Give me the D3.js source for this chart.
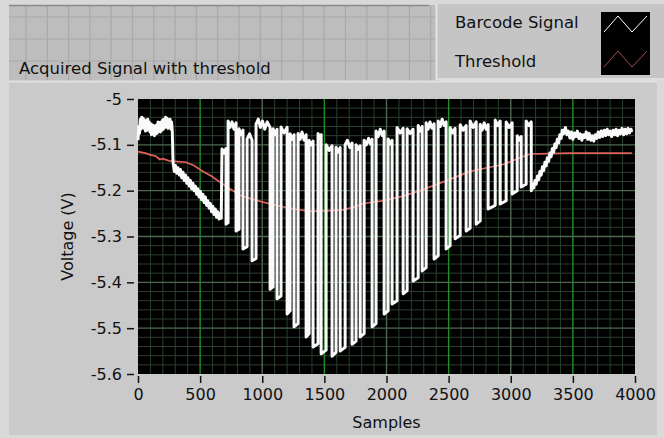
<!DOCTYPE html>
<html lang="en">
<head>
  <meta charset="UTF-8">
  <title>Acquired Signal with threshold</title>
  <script src="https://d3js.org/d3.v7.min.js"></script>
  <style>
    body {
      margin: 0;
      background: #d8d8d8;
    }
    svg {
      display: block;
      font-family: 'DejaVu Sans', sans-serif;
    }
    .tick text {
      font-size: 16px;
      fill: #111;
    }
  </style>
</head>
<body>
  <svg id="chart" width="664" height="438"></svg>

  <script>
    // axis ticks
    const xTicks = [0, 500, 1000, 1500, 2000, 2500, 3000, 3500, 4000];
    const yTicks = [-5, -5.1, -5.2, -5.3, -5.4, -5.5, -5.6];

    // barcode signal, [sample, volts] - flat lead-in then slow ramp down
    const signalLead = [
      [0, -5.09], [6, -5.06], [12, -5.075], [18, -5.045], [24, -5.066], [30, -5.04], [36, -5.06],
      [42, -5.042], [48, -5.064], [54, -5.046], [60, -5.07], [66, -5.05], [72, -5.068], [78, -5.044],
      [84, -5.066], [90, -5.05], [96, -5.072], [102, -5.054], [108, -5.078], [114, -5.056], [120, -5.074],
      [126, -5.058], [132, -5.08], [138, -5.06], [144, -5.076], [150, -5.056], [156, -5.074], [162, -5.05],
      [168, -5.07], [174, -5.052], [180, -5.072], [186, -5.05], [192, -5.068], [198, -5.046], [204, -5.066],
      [210, -5.044], [216, -5.062], [222, -5.04], [228, -5.06], [234, -5.042], [240, -5.064], [246, -5.046],
      [252, -5.062], [258, -5.044], [264, -5.066], [270, -5.05], [276, -5.07],
      [282, -5.138], [292, -5.158], [302, -5.145], [312, -5.162], [322, -5.15], [332, -5.166], [342, -5.154],
      [352, -5.172], [362, -5.16], [372, -5.178], [382, -5.166], [392, -5.184], [402, -5.172], [412, -5.19],
      [422, -5.178], [432, -5.196], [442, -5.184], [452, -5.2], [462, -5.19], [472, -5.208], [482, -5.196],
      [492, -5.214], [502, -5.202], [512, -5.22], [522, -5.208], [532, -5.226], [542, -5.214], [552, -5.232],
      [562, -5.222], [572, -5.238], [582, -5.228], [592, -5.246], [602, -5.234], [612, -5.252], [622, -5.24],
      [632, -5.258], [642, -5.246], [652, -5.262], [662, -5.25], [670, -5.26]
    ];

    // the bars themselves
    const signalBars = [
      [676, -5.109], [692, -5.118], [709, -5.108], [709, -5.273], [725, -5.27],
      [725, -5.048], [741, -5.062], [757, -5.05], [773, -5.066], [789, -5.052], [789, -5.288], [813, -5.284],
      [813, -5.065], [829, -5.078], [845, -5.068], [845, -5.327], [878, -5.322],
      [878, -5.087], [898, -5.076], [918, -5.09], [918, -5.353], [950, -5.348],
      [950, -5.055], [968, -5.044], [985, -5.062], [1002, -5.048], [1020, -5.066], [1040, -5.05], [1063, -5.062],
      [1063, -5.415], [1087, -5.41],
      [1087, -5.065], [1103, -5.078], [1119, -5.066], [1119, -5.436], [1151, -5.43],
      [1151, -5.061], [1175, -5.074], [1200, -5.062], [1200, -5.469], [1224, -5.462],
      [1224, -5.076], [1240, -5.088], [1256, -5.078], [1256, -5.497], [1288, -5.49],
      [1288, -5.075], [1305, -5.088], [1320, -5.072], [1337, -5.09], [1353, -5.078], [1353, -5.519], [1377, -5.512],
      [1377, -5.09], [1393, -5.1], [1409, -5.092], [1409, -5.541], [1449, -5.534],
      [1449, -5.075], [1462, -5.086], [1474, -5.078], [1474, -5.556], [1514, -5.548],
      [1514, -5.1], [1538, -5.112], [1562, -5.102], [1562, -5.561], [1594, -5.553],
      [1594, -5.105], [1610, -5.116], [1627, -5.106], [1627, -5.55], [1667, -5.542],
      [1667, -5.1], [1685, -5.09], [1705, -5.106], [1723, -5.096], [1723, -5.535], [1755, -5.528],
      [1755, -5.1], [1772, -5.11], [1788, -5.102], [1788, -5.519], [1820, -5.512],
      [1820, -5.09], [1838, -5.1], [1856, -5.086], [1870, -5.098], [1884, -5.088], [1884, -5.497], [1916, -5.49],
      [1916, -5.07], [1933, -5.082], [1950, -5.066], [1966, -5.08], [1981, -5.07], [1981, -5.469], [2013, -5.462],
      [2013, -5.087], [2029, -5.098], [2045, -5.09], [2045, -5.447], [2085, -5.44],
      [2085, -5.062], [2110, -5.074], [2134, -5.064], [2134, -5.425], [2166, -5.418],
      [2166, -5.065], [2190, -5.075], [2214, -5.066], [2214, -5.397], [2255, -5.39],
      [2255, -5.058], [2271, -5.07], [2287, -5.06], [2287, -5.375], [2319, -5.368],
      [2319, -5.052], [2335, -5.066], [2350, -5.05], [2366, -5.064], [2383, -5.054], [2383, -5.349], [2416, -5.342],
      [2416, -5.048], [2432, -5.06], [2448, -5.044], [2464, -5.058], [2480, -5.05], [2480, -5.327], [2512, -5.32],
      [2512, -5.062], [2532, -5.074], [2552, -5.064], [2552, -5.305], [2593, -5.298],
      [2593, -5.056], [2617, -5.068], [2641, -5.058], [2641, -5.288], [2673, -5.282],
      [2673, -5.048], [2697, -5.062], [2722, -5.05], [2722, -5.273], [2754, -5.266],
      [2754, -5.055], [2770, -5.068], [2786, -5.052], [2802, -5.066], [2818, -5.056], [2818, -5.24], [2875, -5.232],
      [2875, -5.046], [2895, -5.058], [2915, -5.048], [2915, -5.229], [2963, -5.222],
      [2963, -5.05], [2987, -5.062], [3011, -5.052], [3011, -5.207], [3052, -5.2],
      [3052, -5.08], [3068, -5.09], [3084, -5.082], [3084, -5.192], [3124, -5.186],
      [3124, -5.048], [3145, -5.058], [3165, -5.05]
    ];

    // ramp back up and the quiet zone at the end
    const signalTail = [
      [3165, -5.2], [3175, -5.186], [3185, -5.194], [3195, -5.178], [3205, -5.186], [3215, -5.168],
      [3225, -5.176], [3235, -5.158], [3245, -5.166], [3255, -5.148], [3265, -5.156], [3275, -5.138],
      [3285, -5.146], [3295, -5.128], [3305, -5.136], [3315, -5.118], [3325, -5.126], [3335, -5.108],
      [3345, -5.116], [3355, -5.098], [3365, -5.106], [3375, -5.088], [3385, -5.096], [3395, -5.078],
      [3405, -5.086], [3415, -5.068], [3425, -5.076], [3440, -5.062],
      [3452, -5.078], [3464, -5.07], [3476, -5.085], [3488, -5.072], [3500, -5.088], [3512, -5.074],
      [3524, -5.082], [3536, -5.07], [3548, -5.086], [3560, -5.076], [3572, -5.09], [3584, -5.078],
      [3596, -5.084], [3608, -5.072], [3620, -5.088], [3632, -5.075], [3644, -5.09], [3656, -5.08],
      [3668, -5.092], [3680, -5.078], [3692, -5.086], [3704, -5.072], [3716, -5.084], [3728, -5.07],
      [3740, -5.082], [3752, -5.068], [3764, -5.08], [3776, -5.066], [3788, -5.078], [3800, -5.07],
      [3812, -5.082], [3824, -5.068], [3836, -5.078], [3848, -5.066], [3860, -5.08], [3872, -5.068],
      [3884, -5.076], [3896, -5.064], [3908, -5.078], [3920, -5.066], [3932, -5.076], [3944, -5.064],
      [3956, -5.074], [3968, -5.066], [3975, -5.072]
    ];

    // threshold, [sample, volts]
    const threshold = [
      [0, -5.115], [60, -5.118], [100, -5.122], [145, -5.125], [175, -5.132], [200, -5.13],
      [250, -5.135], [300, -5.136], [386, -5.138], [450, -5.145], [523, -5.158], [590, -5.168],
      [652, -5.18], [740, -5.196], [821, -5.21], [910, -5.218], [1006, -5.225], [1143, -5.234],
      [1260, -5.24], [1385, -5.245], [1500, -5.244], [1650, -5.242], [1740, -5.236], [1812, -5.228],
      [1948, -5.223], [2134, -5.212], [2270, -5.2], [2407, -5.186], [2540, -5.172], [2673, -5.158],
      [2810, -5.15], [2939, -5.143], [3076, -5.128], [3156, -5.12], [3300, -5.119], [3478, -5.118],
      [3700, -5.118], [3975, -5.118]
    ];

    const signal = signalLead.concat(signalBars, signalTail);

    const svg = d3.select("#chart");
    const width = 664, height = 438;
    const plot = { left: 138, right: 635, top: 99, bottom: 374 };

    const x = d3.scaleLinear().domain([0, 4000]).range([plot.left, plot.right]);
    const y = d3.scaleLinear().domain([-5.6, -5]).range([plot.bottom, plot.top]);

    // ---- panel chrome ----
    svg.append("rect").attr("width", width).attr("height", height).attr("fill", "#d9d9d9");

    // front panel grid up top
    const panelTop = svg.append("g");
    panelTop.append("rect").attr("x", 9).attr("y", 5).attr("width", 430).attr("height", 76).attr("fill", "#bdbdbd");
    for (let gx = 26; gx < 439; gx += 21.3) {
      panelTop.append("line").attr("x1", gx).attr("x2", gx).attr("y1", 5).attr("y2", 81)
        .attr("stroke", "#a9a9a9").attr("stroke-width", 1.2);
    }
    for (let gy = 17; gy < 81; gy += 22) {
      panelTop.append("line").attr("x1", 9).attr("x2", 439).attr("y1", gy).attr("y2", gy)
        .attr("stroke", "#a9a9a9").attr("stroke-width", 1.2);
    }
    panelTop.append("line").attr("x1", 9).attr("x2", 429).attr("y1", 5.5).attr("y2", 5.5)
      .attr("stroke", "#8a8a8a").attr("stroke-width", 1.5);

    // chart panel
    svg.append("rect").attr("x", 9).attr("y", 81).attr("width", 648).attr("height", 354).attr("fill", "#cacaca");
    svg.append("line").attr("x1", 9).attr("x2", 657).attr("y1", 81.5).attr("y2", 81.5).attr("stroke", "#e2e2e2").attr("stroke-width", 2);

    // legend box
    const leg = svg.append("g");
    leg.append("rect").attr("x", 436).attr("y", 4).attr("width", 228).attr("height", 76).attr("fill", "#c5c5c5");
    leg.append("line").attr("x1", 436.5).attr("x2", 436.5).attr("y1", 4).attr("y2", 80).attr("stroke", "#e4e4e4").attr("stroke-width", 2);
    leg.append("line").attr("x1", 436).attr("x2", 664).attr("y1", 79).attr("y2", 79).attr("stroke", "#dedede").attr("stroke-width", 2);
    leg.append("rect").attr("x", 601).attr("y", 12).attr("width", 49).attr("height", 63).attr("fill", "#000");

    const legendItems = [
      { label: "Barcode Signal", color: "#ffffff", yText: 28, yMid: 24 },
      { label: "Threshold", color: "#a84848", yText: 67, yMid: 59 }
    ];
    legendItems.forEach(d => {
      leg.append("text").attr("x", 455).attr("y", d.yText).attr("font-size", 16.5).attr("fill", "#111").text(d.label);
      leg.append("polyline")
        .attr("points", [[604, d.yMid + 8], [618, d.yMid - 8], [632, d.yMid + 8], [647, d.yMid - 8]].join(" "))
        .attr("fill", "none").attr("stroke", d.color).attr("stroke-width", 1);
    });

    svg.append("text").attr("x", 19).attr("y", 74).attr("font-size", 16.5).attr("fill", "#111")
      .text("Acquired Signal with threshold");

    // ---- plot area ----
    svg.append("rect")
      .attr("x", plot.left).attr("y", plot.top)
      .attr("width", plot.right - plot.left).attr("height", plot.bottom - plot.top)
      .attr("fill", "#000");

    const grid = svg.append("g");
    const xMinor = d3.range(0, 4001, 100).filter(v => v % 500 !== 0);
    const yMinor = d3.range(-5.6, -4.999, 0.02).filter(v => Math.abs(v * 10 - Math.round(v * 10)) > 1e-6);

    grid.selectAll(".xmin").data(xMinor).enter().append("line")
      .attr("x1", d => x(d)).attr("x2", d => x(d)).attr("y1", plot.top).attr("y2", plot.bottom)
      .attr("stroke", "#26402a").attr("stroke-width", 1);
    grid.selectAll(".ymin").data(yMinor).enter().append("line")
      .attr("x1", plot.left).attr("x2", plot.right).attr("y1", d => y(d)).attr("y2", d => y(d))
      .attr("stroke", "#2c3e2e").attr("stroke-width", 1);
    grid.selectAll(".xmaj").data(xTicks.slice(1, -1)).enter().append("line")
      .attr("x1", d => x(d)).attr("x2", d => x(d)).attr("y1", plot.top).attr("y2", plot.bottom)
      .attr("stroke", d => d % 1000 === 500 ? "#1f8f24" : "#4f6650").attr("stroke-width", 1.4);
    grid.selectAll(".ymaj").data(yTicks.slice(1, -1)).enter().append("line")
      .attr("x1", plot.left).attr("x2", plot.right).attr("y1", d => y(d)).attr("y2", d => y(d))
      .attr("stroke", "#4d6a50").attr("stroke-width", 1.4);

    const line = d3.line().x(d => x(d[0])).y(d => y(d[1]));

    svg.append("path").datum(threshold)
      .attr("d", line).attr("fill", "none")
      .attr("stroke", "#e0605c").attr("stroke-width", 1.7);

    svg.append("path").datum(signal)
      .attr("d", line).attr("fill", "none")
      .attr("stroke", "#fafafa").attr("stroke-width", 3)
      .attr("stroke-linejoin", "round");

    // ---- axes ----
    const fmt = d => String(+d.toFixed(1));

    const yAxis = svg.append("g")
      .attr("transform", `translate(${plot.left - 4},0)`)
      .call(d3.axisLeft(y).tickValues(yTicks).tickSize(7).tickPadding(5).tickFormat(fmt));
    const xAxis = svg.append("g")
      .attr("transform", `translate(0,${plot.bottom + 2})`)
      .call(d3.axisBottom(x).tickValues(xTicks).tickSize(7).tickPadding(6).tickFormat(fmt));

    [xAxis, yAxis].forEach(a => {
      a.select(".domain").remove();
      a.selectAll(".tick line").attr("stroke", "#111").attr("stroke-width", 1.5);
      a.attr("font-family", null).attr("font-size", null);
    });

    svg.append("text")
      .attr("x", (plot.left + plot.right) / 2).attr("y", 428)
      .attr("text-anchor", "middle").attr("font-size", 16).attr("fill", "#111")
      .text("Samples");

    svg.append("text")
      .attr("transform", `translate(67,${(plot.top + plot.bottom) / 2}) rotate(-90)`)
      .attr("text-anchor", "middle").attr("dominant-baseline", "central")
      .attr("font-size", 16).attr("fill", "#111")
      .text("Voltage (V)");
  </script>
</body>
</html>
